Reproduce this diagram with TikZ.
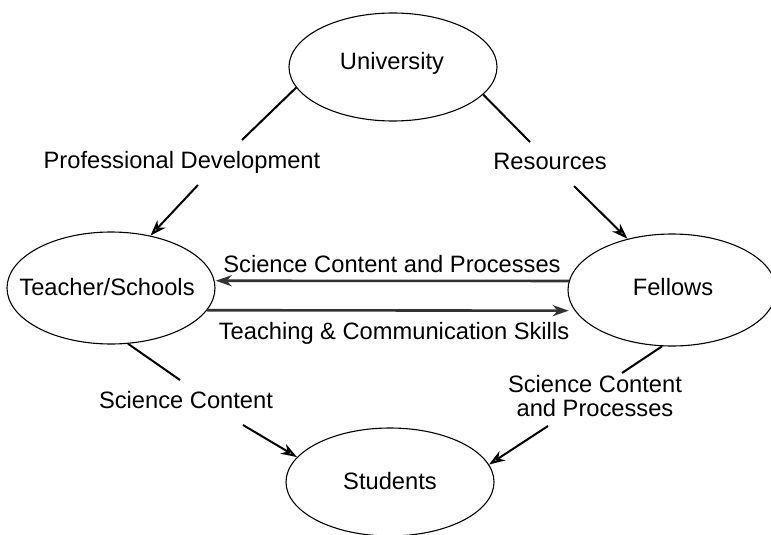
\documentclass[tikz,border=0pt]{standalone}
\usepackage{fontspec}
\setmainfont{Liberation Sans}
\usetikzlibrary{arrows.meta,shapes.geometric}
\tikzset{
  ell/.style={ellipse, draw, line width=1.1pt, minimum width=208pt, minimum height=112pt, inner sep=0pt},
  lbl/.style={font=\fontsize{23.7}{24}\selectfont, inner sep=0pt, anchor=base},
  con/.style={line width=2pt},
  tipstyle/.style={-{Stealth[length=16pt,width=11pt,inset=5pt,fill=gray!50]}},
  arr/.style={con, tipstyle},
  harr/.style={line width=2.6pt, draw=black!80, tipstyle},
}
\begin{document}
\begin{tikzpicture}[x=1pt,y=-1pt]
\useasboundingbox (0,0) rectangle (771,535);
\fill[white] (0,0) rectangle (771,535);
% ellipses
\node[ell, minimum height=108pt] (univ) at (393,67) {};
\node[ell] (teach) at (111,288) {};
\node[ell] (fell) at (672,290) {};
\node[ell, minimum height=108pt] (stud) at (390,482) {};
% ellipse texts
\node[lbl] (univT) at (392,70) {University};
\node[lbl] (teachT) at (107,295) {Teacher/Schools};
\node[lbl] (fellT) at (673,295) {Fellows};
\node[lbl] (studT) at (390,489) {Students};
% connector labels
\node[lbl] (pd) at (182,168) {Professional Development};
\node[lbl] (res) at (550,169) {Resources};
\node[lbl] (scp) at (392,272) {Science Content and Processes};
\node[lbl] (tcs) at (394,339) {Teaching \& Communication Skills};
\node[lbl] (sc) at (186,408) {Science Content};
\node[lbl, anchor=center, align=center] (scp2) at (595,396) {Science Content\\and Processes};
% free ends
\coordinate (pdA) at (242,140);
\coordinate (pdB) at (198,185);
\coordinate (resA) at (530,142);
\coordinate (resB) at (574,186);
\coordinate (scA) at (180,380);
\coordinate (scB) at (243,425);
\coordinate (spA) at (622,373);
\coordinate (spB) at (548,426);
% connectors
\draw[con] (univ.192) -- (pdA);
\draw[arr] (pdB) -- (teach.53);
\draw[con] (univ.343) -- (resA);
\draw[arr] (resB) -- (fell.131);
\draw[con] (teach.287) -- (scA);
\draw[arr] (scB) -- (stud.165);
\draw[con] (fell.260) -- (spA);
\draw[arr] (spB) -- (stud.10);
\draw[harr, shorten >=1pt] (fell.175) -- (teach.4);
\draw[harr, shorten >=6pt] (teach.347) -- (fell.192);
\end{tikzpicture}
\end{document}
